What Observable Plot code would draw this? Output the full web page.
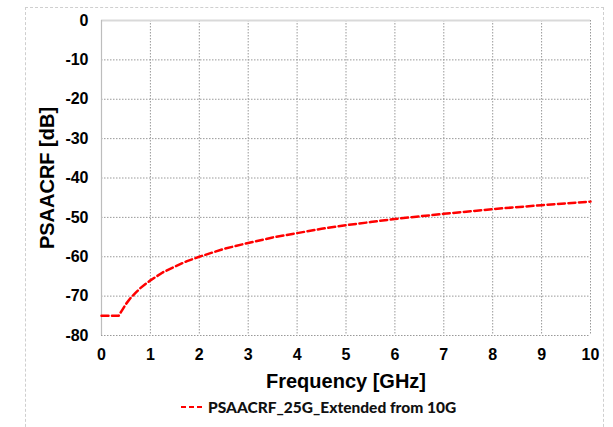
<!DOCTYPE html>
<html>
<head>
<meta charset="utf-8">
<script src="https://cdn.jsdelivr.net/npm/d3@7"></script>
<script src="https://cdn.jsdelivr.net/npm/@observablehq/plot@0.6"></script>
<style>
  html, body { margin: 0; padding: 0; background: #fff; width: 613px; height: 427px; overflow: hidden; }
  #wrap { position: relative; width: 613px; height: 427px; }
  #frame { position: absolute; left: 25px; top: 7px; width: 579px; height: 440px; border: 1px dashed #cfcfcf; box-sizing: border-box; }
  #chart { position: absolute; left: 0; top: 0; }
  #legend { position: absolute; left: 180px; top: 398px; font-family: Lato, "Open Sans", sans-serif; font-weight: 900; font-size: 15.5px; color: #111; display: flex; align-items: center; white-space: nowrap; }
  #legend svg { margin-right: 4px; }
</style>
</head>
<body>
<div id="wrap">
  <div id="frame"></div>
  <div id="chart"></div>
  <div id="legend"></div>
</div>
<script>
const seriesName = "PSAACRF_25G_Extended from 10G";
const freqGHz = [0, 0.35, 0.4, 0.5, 0.6, 0.7, 0.8, 0.9, 1, 1.25, 1.5, 1.75, 2, 2.5, 3, 3.5, 4, 4.5, 5, 5.5, 6, 7, 8, 9, 10];
const psaacrfDb = [-75, -75, -74, -72, -70.4, -69.1, -67.9, -66.9, -66, -64, -62.5, -61.1, -60, -58, -56.5, -55.1, -54, -52.9, -52, -51.2, -50.4, -49.1, -47.9, -46.9, -46];
const xTicks = [0, 1, 2, 3, 4, 5, 6, 7, 8, 9, 10];
const yTicks = [0, -10, -20, -30, -40, -50, -60, -70, -80];

const data = freqGHz.map((f, i) => ({f, v: psaacrfDb[i]}));

const chart = Plot.plot({
  width: 613,
  height: 395,
  marginLeft: 101,
  marginRight: 23,
  marginTop: 20,
  marginBottom: 60,
  style: {fontFamily: "'Liberation Sans', Arial, sans-serif", fontWeight: "bold", fontSize: "16px", color: "#000", background: "transparent"},
  x: {domain: [0, 10]},
  y: {domain: [-80, 0]},
  marks: [
    Plot.gridX(xTicks, {stroke: "#999", strokeOpacity: 1, strokeDasharray: "1.5,1.5"}),
    Plot.gridY(yTicks, {stroke: "#999", strokeOpacity: 1, strokeDasharray: "1.5,1.5"}),
    Plot.ruleY([0], {stroke: "#d9d9d9", strokeWidth: 2}),
    Plot.ruleX([0], {stroke: "#bdbdbd", strokeWidth: 1.2}),
    Plot.axisX(xTicks, {tickSize: 0, tickPadding: 13, fontSize: 16, fontWeight: "bold", tickFormat: d => String(d), label: "Frequency [GHz]", labelAnchor: "center", labelArrow: "none", labelOffset: 52}),
    Plot.axisY(yTicks, {tickSize: 0, tickPadding: 13, fontSize: 16, fontWeight: "bold", tickFormat: d => String(d), label: "PSAACRF [dB]", labelAnchor: "center", labelArrow: "none", labelOffset: 62}),
    Plot.line(data, {x: "f", y: "v", stroke: "#ff0000", strokeWidth: 2.5, strokeDasharray: "7,3.5"})
  ]
});
d3.select(chart).selectAll("[aria-label='x-axis label'] text, [aria-label='y-axis label'] text").style("font-size", "20px");
document.getElementById("chart").appendChild(chart);

const legend = document.getElementById("legend");
legend.innerHTML = `<svg width="24" height="6"><line x1="1" y1="3" x2="24" y2="3" stroke="#ff0000" stroke-width="2" stroke-dasharray="5,3"/></svg><span>${seriesName}</span>`;
</script>
</body>
</html>
